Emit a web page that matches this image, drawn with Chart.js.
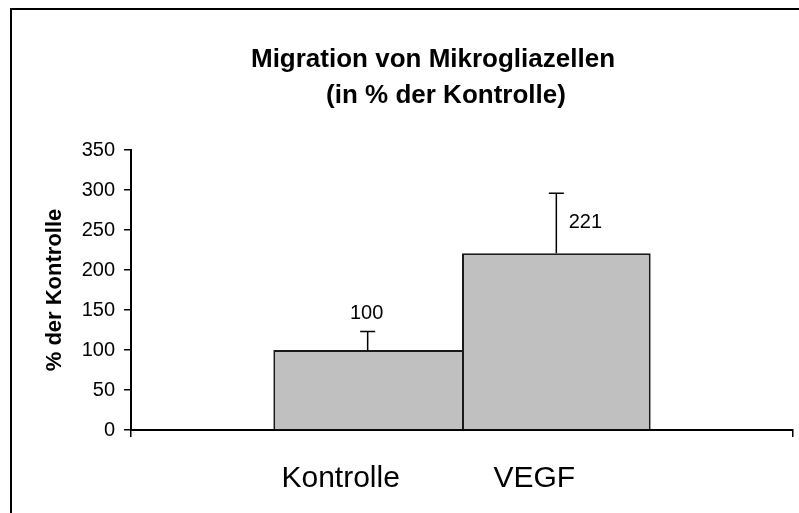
<!DOCTYPE html>
<html>
<head>
<meta charset="utf-8">
<script src="https://cdn.jsdelivr.net/npm/chart.js@4.4.1/dist/chart.umd.min.js"></script>
<style>
  html, body { margin: 0; padding: 0; background: #fff; }
  #wrap { width: 799px; height: 513px; }
</style>
</head>
<body>
<div id="wrap"><canvas id="chart" width="799" height="513"></canvas></div>
<script>
// values
const groups = ["Kontrolle", "VEGF"];
const meanValues = [100, 221];
const errorValues = [23, 75];
const titleLines = ["Migration von Mikrogliazellen", "(in % der Kontrolle)"];
const yAxisTitle = "% der Kontrolle";
const yMin = 0;
const yMax = 350;
const yStep = 50;

const FONT = "'Liberation Sans', Arial, sans-serif";

/* white page and the two frame lines of the pasted chart box */
const framePlugin = {
	id: "frame",
	beforeDraw(chart) {
		const ctx = chart.ctx;
		ctx.save();
		ctx.fillStyle = "#fff";
		ctx.fillRect(0, 0, chart.width, chart.height);
		ctx.strokeStyle = "#000";
		ctx.lineWidth = 2;
		ctx.beginPath();
		ctx.moveTo(11, chart.height);
		ctx.lineTo(11, 9);
		ctx.lineTo(chart.width, 9);
		ctx.stroke();
		ctx.restore();
	}
};

/* two line bold title, a bit left of the plot centre like the original */
const titlePlugin = {
	id: "twoLineTitle",
	afterDraw(chart) {
		const ctx = chart.ctx;
		ctx.save();
		ctx.fillStyle = "#000";
		ctx.font = `bold 26px ${FONT}`;
		ctx.textAlign = "center";
		ctx.textBaseline = "middle";
		ctx.fillText(titleLines[0], 433, 60);
		ctx.fillText(titleLines[1], 446, 96);
		ctx.restore();
	}
};

/* upper error bars, value labels and group names under the bars */
const barExtras = {
	id: "barExtras",
	afterDatasetsDraw(chart, args, opts) {
		const ctx = chart.ctx;
		const yScale = chart.scales.y;
		ctx.save();
		groups.forEach((name, i) => {
			const bar = chart.getDatasetMeta(i).data[0];
			const top = yScale.getPixelForValue(meanValues[i] + errorValues[i]);
			ctx.strokeStyle = "#000";
			ctx.lineWidth = 1.5;
			ctx.beginPath();
			ctx.moveTo(bar.x, bar.y);
			ctx.lineTo(bar.x, top);
			ctx.moveTo(bar.x - 7.5, top);
			ctx.lineTo(bar.x + 7.5, top);
			ctx.stroke();

			ctx.fillStyle = "#000";
			ctx.textAlign = "center";
			ctx.textBaseline = "middle";
			ctx.font = `20px ${FONT}`;
			const off = opts.valueOffsets[i];
			ctx.fillText(String(meanValues[i]), bar.x + off[0], bar.y + off[1]);

			ctx.textBaseline = "alphabetic";
			ctx.font = `30px ${FONT}`;
			ctx.fillText(name, bar.x + opts.nameOffsets[i], opts.nameBaseline);
		});
		ctx.restore();
	}
};

// the first bar leaves its right edge to the second one, so the shared edge is a single line
const barBorders = [
	{ top: 2, left: 2, right: 0, bottom: 0 },
	{ top: 2, left: 2, right: 2, bottom: 0 }
];

const ctx = document.getElementById("chart").getContext("2d");
const chart = new Chart(ctx, {
	type: "bar",
	data: {
		labels: [""],
		datasets: groups.map((name, i) => ({
			label: name,
			data: [meanValues[i]],
			backgroundColor: "#c0c0c0",
			borderColor: "#1a1a1a",
			borderWidth: barBorders[i],
			barPercentage: 1,
			categoryPercentage: 0.57
		}))
	},
	options: {
		responsive: false,
		animation: false,
		devicePixelRatio: 1,
		layout: { padding: { top: 150, right: 6, bottom: 0, left: 0 } },
		plugins: {
			legend: { display: false },
			tooltip: { enabled: false },
			title: { display: false },
			barExtras: {
				valueOffsets: [[-1, -37], [29, -31]],
				nameOffsets: [-27, -22],
				nameBaseline: 487
			}
		},
		scales: {
			x: {
				offset: true,
				ticks: { display: false },
				grid: {
					offset: true,
					drawOnChartArea: false,
					drawTicks: true,
					tickLength: 7,
					color: "#000",
					lineWidth: 1.5
				},
				border: { display: true, color: "#000", width: 2 },
				afterFit(scale) { scale.height = 83; }
			},
			y: {
				min: yMin,
				max: yMax,
				ticks: {
					stepSize: yStep,
					color: "#000",
					font: { family: FONT, size: 20 },
					padding: 9
				},
				grid: {
					drawOnChartArea: false,
					drawTicks: true,
					tickLength: 7,
					color: "#000",
					lineWidth: 1.5
				},
				border: { display: true, color: "#000", width: 2 },
				title: {
					display: true,
					text: yAxisTitle,
					color: "#000",
					font: { family: FONT, size: 22, weight: "bold" },
					padding: { top: 42, bottom: 0 }
				},
				afterFit(scale) { scale.width = 131; }
			}
		}
	},
	plugins: [framePlugin, titlePlugin, barExtras]
});
</script>
</body>
</html>
